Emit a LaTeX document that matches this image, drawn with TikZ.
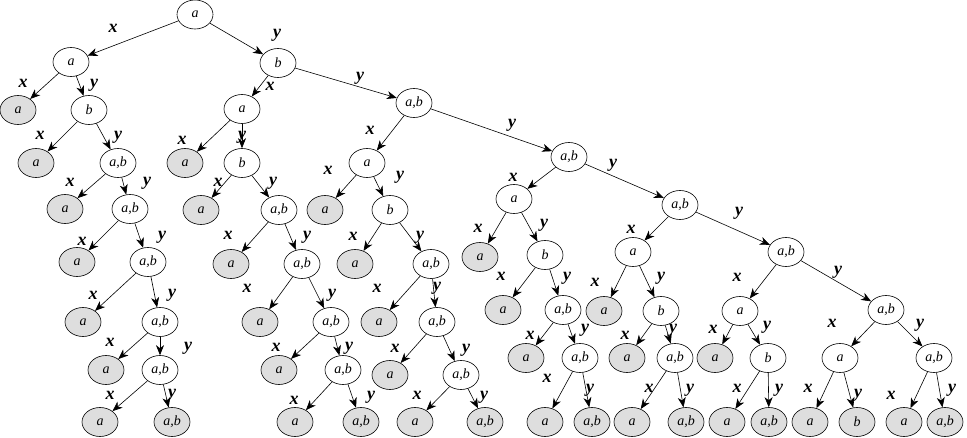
\documentclass[tikz,border=0pt]{standalone}
\usepackage{fontspec}
\setmainfont{Liberation Serif}
\usetikzlibrary{shapes.geometric,arrows.meta}
\definecolor{leafgray}{RGB}{222,222,222}
\tikzset{
  nd/.style={ellipse, draw, line width=0.6pt, minimum width=36pt, minimum height=29pt, inner sep=0pt, font=\fontsize{14}{14}\selectfont\itshape},
  lf/.style={nd, fill=leafgray},
  lab/.style={font=\fontsize{18}{18}\selectfont\bfseries\itshape, inner sep=0pt},
  ar/.style={-{Stealth[length=10pt,width=8pt,inset=3pt]}, line width=0.6pt}
}
\begin{document}
\begin{tikzpicture}[x=1pt,y=-1pt]
\useasboundingbox (0,0) rectangle (967,438);
% top
\node[nd] (r) at (195,14.5) {a};
\node[nd] (A1) at (71,62) {a};
\node[nd] (B1) at (278,63) {b};
% subtree 1
\node[lf] (L1) at (18,110) {a};
\node[nd] (S1b) at (89,110) {b};
\node[lf] (L2) at (36,163) {a};
\node[nd] (S1c) at (118,163) {a,b};
\node[lf] (L3) at (65,209) {a};
\node[nd] (S1d) at (130,209) {a,b};
\node[lf] (L4) at (77,262) {a};
\node[nd] (S1e) at (148,262) {a,b};
\node[lf] (L5) at (83,322) {a};
\node[nd] (S1f) at (160,322) {a,b};
\node[lf] (L6) at (106,370) {a};
\node[nd] (S1g) at (160,370) {a,b};
\node[lf] (L7) at (100,422) {a};
\node[lf] (L8) at (172,422) {a,b};
% subtree 2
\node[nd] (T2a) at (242,109) {a};
\node[lf] (M1) at (185,163) {a};
\node[nd] (T2b) at (242,163) {b};
\node[lf] (M2) at (201,210) {a};
\node[nd] (T2c) at (279,210) {a,b};
\node[lf] (M3) at (231,264) {a};
\node[nd] (T2d) at (302,264) {a,b};
\node[lf] (M4) at (260,322) {a};
\node[nd] (T2e) at (331,322) {a,b};
\node[lf] (M5) at (279,370) {a};
\node[nd] (T2f) at (343,370) {a,b};
\node[lf] (M6) at (295,422) {a};
\node[lf] (M7) at (361,422) {a,b};
% subtree 3
\node[nd] (U0) at (414,103) {a,b};
\node[nd] (U1) at (367,163) {a};
\node[lf] (N1) at (325,210) {a};
\node[nd] (U2) at (390,210) {b};
\node[lf] (N2) at (355,264) {a};
\node[nd] (U3) at (431,264) {a,b};
\node[lf] (N3) at (379,322) {a};
\node[nd] (U4) at (437,322) {a,b};
\node[lf] (N4) at (390,375) {a};
\node[nd] (U5) at (461,375) {a,b};
\node[lf] (N5) at (415,422) {a};
\node[lf] (N6) at (485,422) {a,b};
% subtree 4
\node[nd] (V0) at (569,157) {a,b};
\node[nd] (V1) at (514,199) {a};
\node[lf] (P1) at (480,257) {a};
\node[nd] (V2) at (545,255) {b};
\node[lf] (P2) at (503,310) {a};
\node[nd] (V3) at (563,310) {a,b};
\node[lf] (P3) at (526,358) {a};
\node[nd] (V4) at (580,358) {a,b};
\node[lf] (P4) at (545,422) {a};
\node[lf] (P5) at (592,422) {a,b};
% subtree 5
\node[nd] (W0) at (680,205) {a,b};
\node[nd] (W1) at (633,252) {a};
\node[lf] (Q1) at (604,311) {a};
\node[nd] (W2) at (661,311) {b};
\node[lf] (Q2) at (627,358) {a};
\node[nd] (W3) at (675,358) {a,b};
\node[lf] (Q3) at (632,422) {a};
\node[lf] (Q4) at (686,422) {a,b};
% subtree 6
\node[nd] (X0) at (786,252) {a,b};
\node[nd] (X1) at (740,311) {a};
\node[lf] (R1) at (715,358) {a};
\node[nd] (X2) at (768,358) {b};
\node[lf] (R2) at (727,422) {a};
\node[lf] (R3) at (769,422) {a,b};
\node[nd] (X3) at (886,310) {a,b};
\node[nd] (X4) at (840,358) {a};
\node[lf] (R4) at (810,422) {a};
\node[lf] (R5) at (857,422) {b};
\node[nd] (X5) at (934,358) {a,b};
\node[lf] (R6) at (904,422) {a};
\node[lf] (R7) at (945,422) {a,b};
% edges
\foreach \p/\c in {r/A1, r/B1, A1/L1, A1/S1b, S1b/L2, S1b/S1c, S1c/L3, S1c/S1d, S1d/L4, S1d/S1e, S1e/L5, S1e/S1f, S1f/L6, S1f/S1g, S1g/L7, S1g/L8,
  B1/T2a, B1/U0, T2a/M1, T2a/T2b, T2b/M2, T2b/T2c, T2c/M3, T2c/T2d, T2d/M4, T2d/T2e, T2e/M5, T2e/T2f, T2f/M6, T2f/M7,
  U0/U1, U0/V0, U1/N1, U1/U2, U2/N2, U2/U3, U3/N3, U3/U4, U4/N4, U4/U5, U5/N5, U5/N6,
  V0/V1, V0/W0, V1/P1, V1/V2, V2/P2, V2/V3, V3/P3, V3/V4, V4/P4, V4/P5,
  W0/W1, W0/X0, W1/Q1, W1/W2, W2/Q2, W2/W3, W3/Q3, W3/Q4,
  X0/X1, X0/X3, X1/R1, X1/X2, X2/R2, X2/R3, X3/X4, X3/X5, X4/R4, X4/R5, X5/R6, X5/R7}
  \draw[ar] (\p) -- (\c);
% labels
\foreach \xx/\xy/\yx/\yy in {113/28/277/35, 23/83/94/85, 40/135/118/137, 70/182/147/183, 82/241/162/237, 93/295/172/295, 110/342/188/348, 110/395/172/395,
  270/86/360/78, 182/140/242/137, 218/182/273/183, 228/235/307/237, 247/288/332/295, 276/347/349/348, 294/400/371/397,
  370/130/512/125, 328/170/400/177, 353/236/420/237, 377/288/437/288, 395/348/466/350, 417/395/484/397,
  513/177/613/165, 478/228/544/225, 501/276/567/278, 530/335/585/330, 547/378/590/390,
  631/229/739/213, 595/282/661/278, 625/335/673/330, 649/388/690/390,
  737/277/838/272, 713/329/767/327, 737/388/779/390, 832/323/920/325, 808/388/858/395, 891/395/952/390}
{
  \node[lab] at (\xx,\xy) {x};
  \node[lab] at (\yx,\yy) {y};
}
\end{tikzpicture}
\end{document}
